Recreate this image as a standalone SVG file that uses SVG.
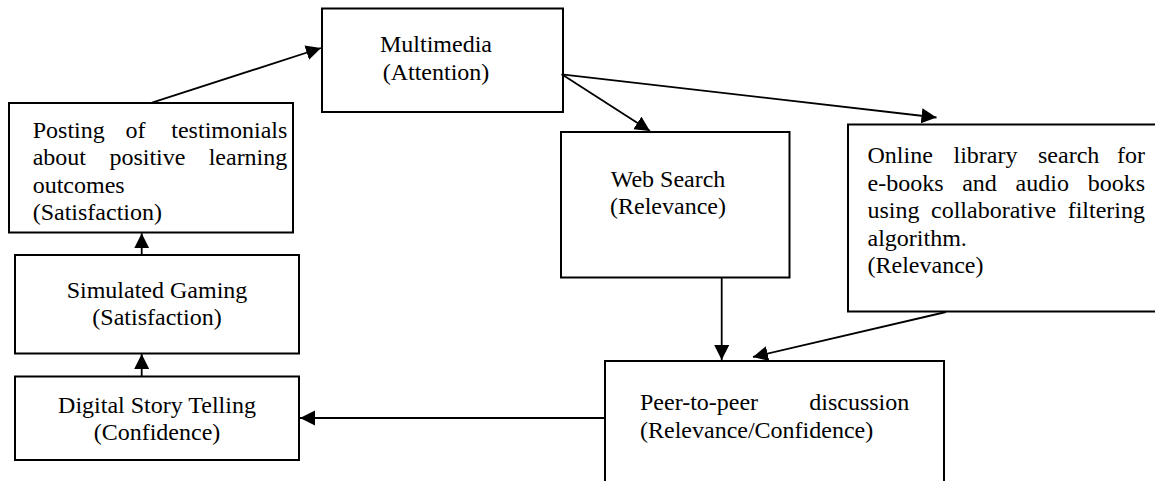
<svg xmlns="http://www.w3.org/2000/svg" width="1155" height="481" viewBox="0 0 1155 481">
<style>
.box{fill:#fff;stroke:#000;stroke-width:2}
.t{font-family:"Liberation Serif","Times New Roman",serif;font-size:24px;fill:#000}
.c{text-anchor:middle}
.e{text-anchor:end}
.ln{stroke:#000;stroke-width:1.8;fill:none;marker-end:url(#ah)}
</style>
<defs>
<marker id="ah" markerUnits="userSpaceOnUse" markerWidth="16" markerHeight="16" refX="15" refY="7.5" orient="auto" viewBox="0 0 16 16">
<path d="M0,0 L15,7.5 L0,15 z" fill="#000"/>
</marker>
</defs>
<rect width="1155" height="481" fill="#fff"/>
<g id="multimedia">
<rect class="box" x="322" y="8.5" width="241" height="103.5"/>
<text class="t c" x="436" y="52">Multimedia</text>
<text class="t c" x="436" y="79.5">(Attention)</text>
</g>
<g id="posting">
<rect class="box" x="9" y="103" width="284" height="129.5"/>
<text class="t" x="32.7" y="138">Posting</text>
<text class="t" x="125.6" y="138">of</text>
<text class="t e" x="287.3" y="138">testimonials</text>
<text class="t" x="32.7" y="165.3">about</text>
<text class="t" x="109.4" y="165.3">positive</text>
<text class="t e" x="287.3" y="165.3">learning</text>
<text class="t" x="32.7" y="192.7">outcomes</text>
<text class="t" x="32.7" y="220">(Satisfaction)</text>
</g>
<g id="simulated">
<rect class="box" x="15" y="255" width="284" height="98.5"/>
<text class="t c" x="157" y="297.5">Simulated Gaming</text>
<text class="t c" x="157" y="325">(Satisfaction)</text>
</g>
<g id="digital">
<rect class="box" x="15" y="376.5" width="284" height="83.5"/>
<text class="t c" x="157" y="412.7">Digital Story Telling</text>
<text class="t c" x="157" y="440">(Confidence)</text>
</g>
<g id="websearch">
<rect class="box" x="561" y="132" width="228.5" height="145.5"/>
<text class="t c" x="668" y="186.7">Web Search</text>
<text class="t c" x="668" y="214">(Relevance)</text>
</g>
<g id="online">
<rect class="box" x="848" y="124.5" width="320" height="187"/>
<text class="t" x="867.5" y="163.3">Online</text>
<text class="t" x="953.5" y="163.3">library</text>
<text class="t" x="1038" y="163.3">search</text>
<text class="t e" x="1145" y="163.3">for</text>
<text class="t" x="867.5" y="190.8">e-books</text>
<text class="t" x="962.2" y="190.8">and</text>
<text class="t" x="1015.6" y="190.8">audio</text>
<text class="t e" x="1145" y="190.8">books</text>
<text class="t" x="867.5" y="218.3">using</text>
<text class="t" x="931" y="218.3">collaborative</text>
<text class="t e" x="1145" y="218.3">filtering</text>
<text class="t" x="867.5" y="245.8">algorithm.</text>
<text class="t" x="867.5" y="273.3">(Relevance)</text>
</g>
<g id="peer">
<rect class="box" x="605" y="361" width="339" height="140"/>
<text class="t" x="640" y="410">Peer-to-peer</text>
<text class="t e" x="909.3" y="410">discussion</text>
<text class="t" x="640" y="437.5">(Relevance/Confidence)</text>
</g>
<g id="connectors">
<line class="ln" x1="152" y1="102.7" x2="321" y2="48"/>
<line class="ln" x1="561.7" y1="74.3" x2="650" y2="131"/>
<line class="ln" x1="561.7" y1="74.3" x2="936.5" y2="117.5"/>
<line class="ln" x1="721.7" y1="277.5" x2="721.7" y2="360"/>
<line class="ln" x1="946" y1="312" x2="753" y2="357"/>
<line class="ln" x1="605" y1="418" x2="300" y2="418"/>
<line class="ln" x1="141.7" y1="376.5" x2="141.7" y2="354"/>
<line class="ln" x1="141.7" y1="255" x2="141.7" y2="233.3"/>
</g>
</svg>
